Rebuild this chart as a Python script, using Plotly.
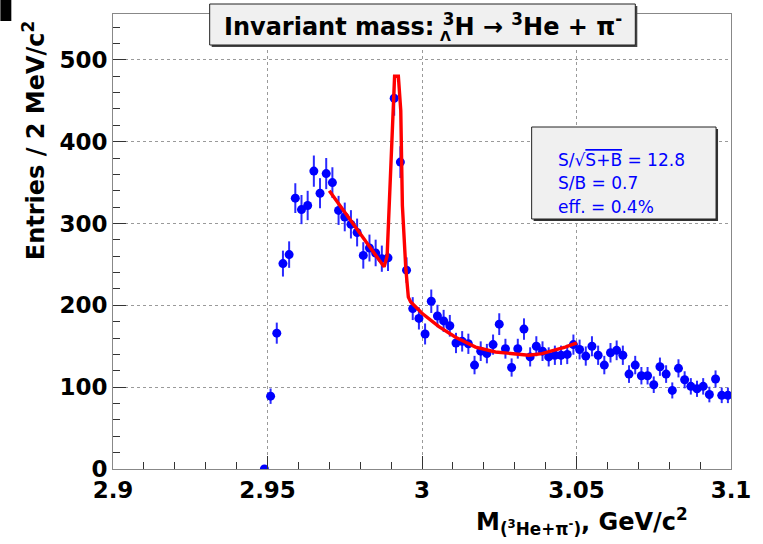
import numpy as np
import plotly.graph_objects as go

# ---------------- data ----------------
bin_start = 2.948   # lower edge of first drawn bin (GeV/c^2)
bin_width = 0.002   # 2 MeV/c^2
entries = [0, 89, 166, 251, 262, 331, 317, 322, 364, 337,
           361, 350, 316, 308, 299, 289, 261, 270, 264, 257,
           258, 453, 375, 243, 196, 184, 165, 205, 187, 181,
           175, 154, 156, 153, 127, 144, 141, 152, 177, 147,
           124, 147, 171, 137, 150, 144, 137, 139, 139, 140,
           152, 146, 138, 150, 139, 127, 142, 145, 139, 116,
           127, 114, 114, 103, 125, 116, 96, 123, 109, 101,
           98, 101, 91, 110, 90, 90]
mass = [round(bin_start + bin_width * (i + 0.5), 4) for i in range(len(entries))]
errors = list(np.sqrt(entries))

fit_x = [2.9700, 2.98774, 2.98871, 2.98935, 2.99042, 2.99113, 2.99235, 2.99313,
         2.99365, 2.99419, 2.99474, 2.99558, 2.99635, 3.0001, 3.00548, 3.01087,
         3.01732, 3.02377, 3.03074, 3.03452, 3.03881, 3.04313, 3.04635, 3.0501]
fit_y = [340, 247, 260, 323, 433, 480, 480, 438,
         322, 285, 246, 210, 204, 190, 174, 161,
         149, 143, 141, 139, 141, 145, 149, 154]

x_ticks = [2.9, 2.95, 3.0, 3.05, 3.1]
x_tick_labels = ["2.9", "2.95", "3", "3.05", "3.1"]
y_ticks = [0, 100, 200, 300, 400, 500]
y_tick_labels = ["0", "100", "200", "300", "400", "500"]

stats_lines = ["S/\u221a<span style='text-decoration:overline'>S+B</span> = 12.8",
               "S/B = 0.7",
               "eff. = 0.4%"]

# ---------------- geometry ----------------
W, H = 763, 544
L, R, T, B = 113, 733, 14, 469

def px(x):
    return (x - L) / (R - L)

def py(y):
    return (B - y) / (B - T)

BOLD = "DejaVu Sans"

fig = go.Figure()
fig.add_trace(go.Scatter(
    x=mass, y=entries, mode="markers",
    marker=dict(color="#0000ff", size=9, line=dict(width=0)),
    error_y=dict(type="data", array=errors, visible=True, color="#2a2aff",
                 thickness=2, width=0),
    showlegend=False, hoverinfo="x+y"))
fig.add_trace(go.Scatter(
    x=fit_x, y=fit_y, mode="lines",
    line=dict(color="#ff0000", width=3.4),
    showlegend=False))

axis_common = dict(
    showline=True, linecolor="#888888", linewidth=1, mirror=True,
    ticks="inside", ticklen=13, tickwidth=1, tickcolor="#333333",
    showgrid=True, gridcolor="#9a9a9a", griddash="dot", gridwidth=1,
    zeroline=False,
    tickfont=dict(family=BOLD, size=23, color="black", weight="bold"),
)

fig.update_xaxes(range=[2.9, 3.1], tickvals=x_ticks, ticktext=x_tick_labels,
                 minor=dict(dtick=0.01, tick0=2.9, ticks="inside", ticklen=7,
                            tickcolor="#333333", showgrid=False),
                 **axis_common)
fig.update_yaxes(range=[0, 556], tickvals=y_ticks, ticktext=y_tick_labels,
                 minor=dict(dtick=20, tick0=0, ticks="inside", ticklen=7,
                            tickcolor="#333333", showgrid=False),
                 **axis_common)

shapes = []
annotations = []

# black corner mark
shapes.append(dict(type="rect", xref="paper", yref="paper",
                   x0=px(0), x1=px(11), y0=py(21), y1=py(0),
                   fillcolor="black", line=dict(width=0), layer="above"))

# title box (shadow + box)
tb = (210, 4, 637, 45)
shapes.append(dict(type="rect", xref="paper", yref="paper",
                   x0=px(tb[0] + 2), x1=px(tb[2] + 2), y0=py(tb[3] + 2), y1=py(tb[1] + 2),
                   fillcolor="#444444", line=dict(width=0), layer="above"))
shapes.append(dict(type="rect", xref="paper", yref="paper",
                   x0=px(tb[0]), x1=px(tb[2]), y0=py(tb[3]), y1=py(tb[1]),
                   fillcolor="#f0f0f0", line=dict(color="#222222", width=1), layer="above"))

# stats box (shadow + box)
sb = (533, 127, 718, 219)
shapes.append(dict(type="rect", xref="paper", yref="paper",
                   x0=px(sb[0] + 2), x1=px(sb[2] + 2), y0=py(sb[3] + 2), y1=py(sb[1] + 2),
                   fillcolor="#333333", line=dict(width=0), layer="above"))
shapes.append(dict(type="rect", xref="paper", yref="paper",
                   x0=px(sb[0]), x1=px(sb[2]), y0=py(sb[3]), y1=py(sb[1]),
                   fillcolor="#f0f0f0", line=dict(color="#222222", width=1), layer="above"))

# title text
annotations.append(dict(
    xref="paper", yref="paper", x=px(424), y=py(25), xanchor="center", yanchor="middle",
    text="Invariant mass: <sup>3</sup>H \u2192 <sup>3</sup>He + \u03c0<sup>-</sup>",
    showarrow=False, font=dict(family=BOLD, size=24, color="black", weight="bold")))
# Lambda subscript under the first superscript 3
annotations.append(dict(
    xref="paper", yref="paper", x=px(447), y=py(36), xanchor="center", yanchor="middle",
    text="\u039b", showarrow=False,
    font=dict(family=BOLD, size=14, color="black", weight="bold")))

# stats text
for line, yy in zip(stats_lines, [160, 183, 207]):
    annotations.append(dict(
        xref="paper", yref="paper", x=px(557), y=py(yy), xanchor="left", yanchor="middle",
        text=line, showarrow=False,
        font=dict(family="DejaVu Sans", size=17, color="#0000ff")))

# y axis title
annotations.append(dict(
    xref="paper", yref="paper", x=px(34), y=py(18), xanchor="center", yanchor="top",
    text="Entries / 2 MeV/c<sup>2</sup>", textangle=-90, showarrow=False,
    font=dict(family=BOLD, size=24, color="black", weight="bold")))

# x axis title
annotations.append(dict(
    xref="paper", yref="paper", x=px(692), y=py(502), xanchor="right", yanchor="top",
    text="M<sub>(<sup>3</sup>He+\u03c0<sup>-</sup>)</sub>, GeV/c<sup>2</sup>",
    showarrow=False,
    font=dict(family=BOLD, size=24, color="black", weight="bold")))

fig.update_layout(
    width=W, height=H,
    margin=dict(l=L, r=W - R, t=T, b=H - B, pad=0),
    paper_bgcolor="white", plot_bgcolor="white",
    shapes=shapes, annotations=annotations,
    showlegend=False,
)

fig.write_html("out.html")
